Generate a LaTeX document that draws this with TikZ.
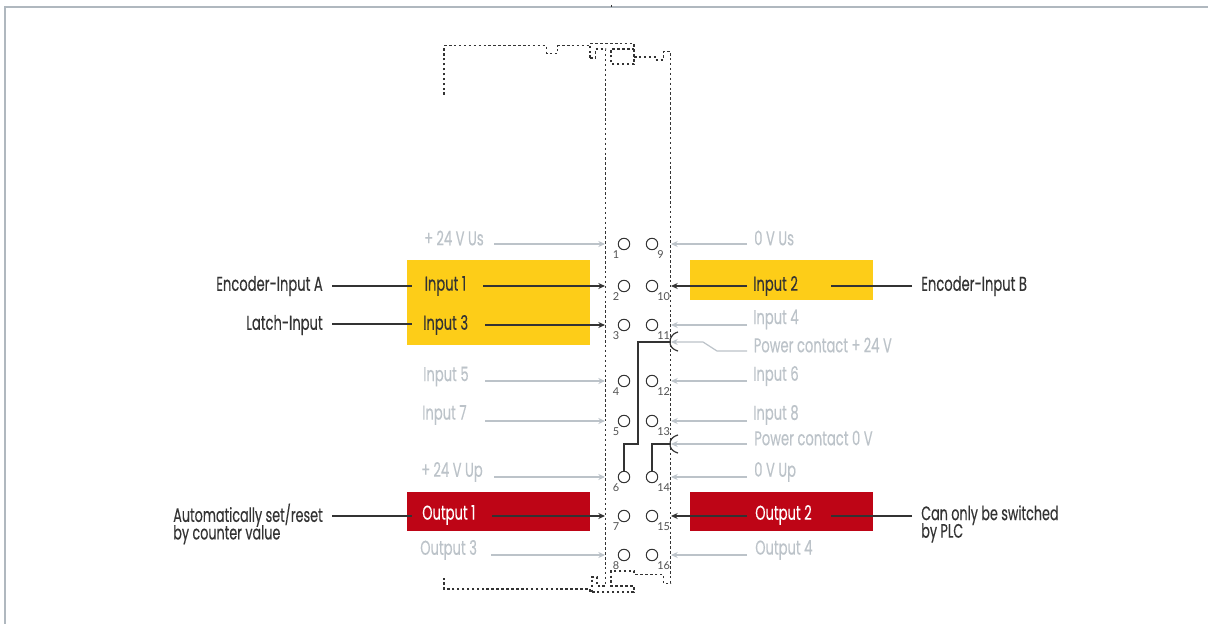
\documentclass[tikz,border=0pt]{standalone}
\usepackage{fontspec}
\setmainfont[FakeStretch=0.655,FakeBold=0.25]{Poppins}
\newfontfamily\bif[FakeStretch=0.655,FakeBold=1.6]{Poppins}
\newfontfamily\numf{Lato}
\newcommand{\bI}{{\bif I}}
\newcommand{\pls}{+\kern2.4pt}
\definecolor{fr}{HTML}{B0B8BF}
\definecolor{gr}{HTML}{BCC3C9}
\definecolor{dk}{HTML}{333333}
\definecolor{yl}{HTML}{FDCD18}
\definecolor{rd}{HTML}{BE0516}
\tikzset{
 x=0.75pt,y=-0.75pt,
 lbl/.style={inner sep=0pt,font=\fontsize{15}{16}\selectfont},
 on/.style={lbl,text=dk},
 off/.style={lbl,text=gr},
 wht/.style={lbl,text=white},
 small/.style={inner sep=0pt,font=\numf\fontsize{8.2}{9}\selectfont,text=dk!85!white},
 port/.style={circle,draw=dk,line width=0.75pt,minimum size=8.6pt,inner sep=0pt},
 ag/.style={gr,line width=1.2pt,-{Stealth[length=5pt,width=4.5pt]}},
 ad/.style={dk,line width=1.2pt,-{Stealth[length=5pt,width=4.5pt]}},
 lk/.style={dk,line width=0.8pt},
 wire/.style={dk,line width=0.9pt},
 outline/.style={dk,line width=1.05pt,dash pattern=on 1.9pt off 1.8pt},
}
\usetikzlibrary{arrows.meta}
\begin{document}
\begin{tikzpicture}
\useasboundingbox (0,0) rectangle (1208,624);
\fill[white] (0,0) rectangle (1208,624);
\draw[fr,line width=1.6pt] (5,624) -- (5,7) -- (1208,7);
\draw[dk,line width=0.5pt] (611,5) -- (611,7);
% boxes
\fill[yl] (407,260) rectangle (590,345);
\fill[yl] (690,260) rectangle (873,300);
\fill[rd] (407,492) rectangle (590,531);
\fill[rd] (690,492) rectangle (873,531);
% outline
\draw[outline] (444,95) -- (444,45.7) -- (546.7,45.7) -- (546.7,53.3) -- (557.7,53.3) -- (557.7,45.7) -- (590,45.7);
\draw[outline] (590,58) -- (590,43.5) -- (634,43.5) -- (634,64) -- (611,64) -- (611,49) -- (634,49);
\draw[outline] (590,58) -- (595.5,58) -- (595.5,49) -- (605.7,49) -- (605.7,586) -- (597,586) -- (597,577) -- (592,577) -- (592,592);
\draw[outline] (634,57) -- (655,57) -- (655,60) -- (663.3,60) -- (663.3,51.7) -- (670.7,51.7) -- (670.7,583.3) -- (663.3,583.3) -- (663.3,574.3) -- (634,574.3) -- (634,571) -- (611,571) -- (611,586) -- (634,586) -- (634,592) -- (590,592) -- (590,589) -- (444,589) -- (444,578.3);
% ports
\foreach \n/\yy/\num in {a/244/1,b/286/2,c/325/3,d/381/4,e/421/5,f/477/6,g/516/7,h/555/8}{
 \node[port] (L\n) at (624,\yy) {};
 \node[small] (LN\n) at (616,\yy+10.5) {\num};
}
\foreach \n/\yy/\num in {a/244/9,b/286/10,c/325/11,d/381/12,e/421/13,f/477/14,g/516/15,h/555/16}{
 \node[port] (R\n) at (652,\yy) {};
 \node[small,anchor=west] (RN\n) at (657,\yy+10.5) {\num};
}
% pin coordinates
\foreach \n/\yy in {a/244,b/286,c/325,d/381,e/421,f/477,g/516,h/555}{
 \coordinate (PL\n) at (605,\yy);
 \coordinate (PR\n) at (671,\yy);
}
% left labels
\node[off,anchor=west] (t1) at (424,238) {\pls 24 V Us};
\node[on,anchor=west] (t2) at (424.5,286) {\bI nput 1};
\node[on,anchor=west] (t3) at (423,325) {\bI nput 3};
\node[off,anchor=west] (t4) at (423,376.5) {Input 5};
\node[off,anchor=west] (t5) at (422,415) {Input 7};
\node[off,anchor=west] (t6) at (421,472) {\pls 24 V Up};
\node[wht,anchor=west] (t7) at (422,515) {Output 1};
\node[off,anchor=west] (t8) at (420,550) {Output 3};
% right labels
\node[off,anchor=west] (r1) at (754,238) {0 V Us};
\node[on,anchor=west] (r2) at (753,286) {\bI nput 2};
\node[off,anchor=west] (r3) at (753,319.5) {Input 4};
\node[off,anchor=west] (r4) at (753.5,345) {Power contact \pls 24 V};
\node[off,anchor=west] (r5) at (753,376) {Input 6};
\node[off,anchor=west] (r6) at (753,415) {Input 8};
\node[off,anchor=west] (r7) at (754,438) {Power contact 0 V};
\node[off,anchor=west] (r8) at (754,472) {0 V Up};
\node[wht,anchor=west] (r9) at (755,515) {Output 2};
\node[off,anchor=west] (r10) at (755,550) {Output 4};
% outer labels
\node[on,anchor=east] (o1) at (323,286) {Encoder-\bI nput A};
\node[on,anchor=east] (o2) at (323,325) {Latch-\bI nput};
\node[on,anchor=west,align=left,font=\fontsize{14.6}{13.8}\selectfont] (o3) at (173,524) {Automatically set/reset\\[-2.4pt]by counter value};
\node[on,anchor=west] (o4) at (921,286) {Encoder-\bI nput B};
\node[on,anchor=west,align=left,font=\fontsize{14.6}{13.8}\selectfont] (o5) at (921,524) {Can only be switched\\[-2.4pt]by PLC};
% arrows left
\coordinate (s1) at (494,244); \coordinate (s2) at (483,286); \coordinate (s3) at (485,325);
\coordinate (s4) at (485,381); \coordinate (s5) at (485,421); \coordinate (s6) at (494,477);
\coordinate (s7) at (492,516); \coordinate (s8) at (491,555);
\draw[ag] (s1) -- (PLa);
\draw[ad] (s2) -- (PLb);
\draw[ad] (s3) -- (PLc);
\draw[ag] (s4) -- (PLd);
\draw[ag] (s5) -- (PLe);
\draw[ag] (s6) -- (PLf);
\draw[ad] (s7) -- (PLg);
\draw[ag] (s8) -- (PLh);
% arrows right
\coordinate (q1) at (747,244); \coordinate (q2) at (747,286); \coordinate (q3) at (747,325);
\coordinate (q5) at (747,381); \coordinate (q6) at (747,421); \coordinate (q8) at (747,477);
\coordinate (q9) at (747,516); \coordinate (q10) at (747,555);
\draw[ag] (q1) -- (PRa);
\draw[ad] (q2) -- (PRb);
\draw[ag] (q3) -- (PRc);
\draw[ag] (q5) -- (PRd);
\draw[ag] (q6) -- (PRe);
\draw[ag] (q8) -- (PRf);
\draw[ad] (q9) -- (PRg);
\draw[ag] (q10) -- (PRh);
% power contacts
\coordinate (cA) at (671,342); \coordinate (cB) at (671,444);
\coordinate (mA) at (703,342); \coordinate (mA2) at (717,351);
\coordinate (eA) at (747,351);\coordinate (eB) at (747,444);
\draw[gr,line width=0.9pt,-{Stealth[length=5pt,width=4.5pt]}] (eA) -- (mA2) -- (mA) -- (cA);
\draw[ag] (eB) -- (cB);
\draw[wire] (Lf.north) -- (624,444) -- (638,444) -- (638,342) -- (cA);
\draw[wire] (Rf.north) -- (652,444) -- (cB);
\draw[wire] (678,332) .. controls (671,334) and (670,339) .. (670,342) .. controls (670,345) and (671,349) .. (678,351);
\draw[wire] (678,435) .. controls (671,437) and (670,441) .. (670,444) .. controls (670,447) and (671,451) .. (678,453);
% leader lines
\coordinate (u1) at (332,286); \coordinate (v1) at (412,286);
\coordinate (u2) at (332,324); \coordinate (v2) at (412,324);
\coordinate (u3) at (332,516); \coordinate (v3) at (412,516);
\coordinate (u4) at (912,286); \coordinate (v4) at (831,286);
\coordinate (u5) at (912,516); \coordinate (v5) at (831,516);
\draw[lk] (u1) -- (v1);
\draw[lk] (u2) -- (v2);
\draw[lk] (u3) -- (v3);
\draw[lk] (u4) -- (v4);
\draw[lk] (u5) -- (v5);
\end{tikzpicture}
\end{document}
